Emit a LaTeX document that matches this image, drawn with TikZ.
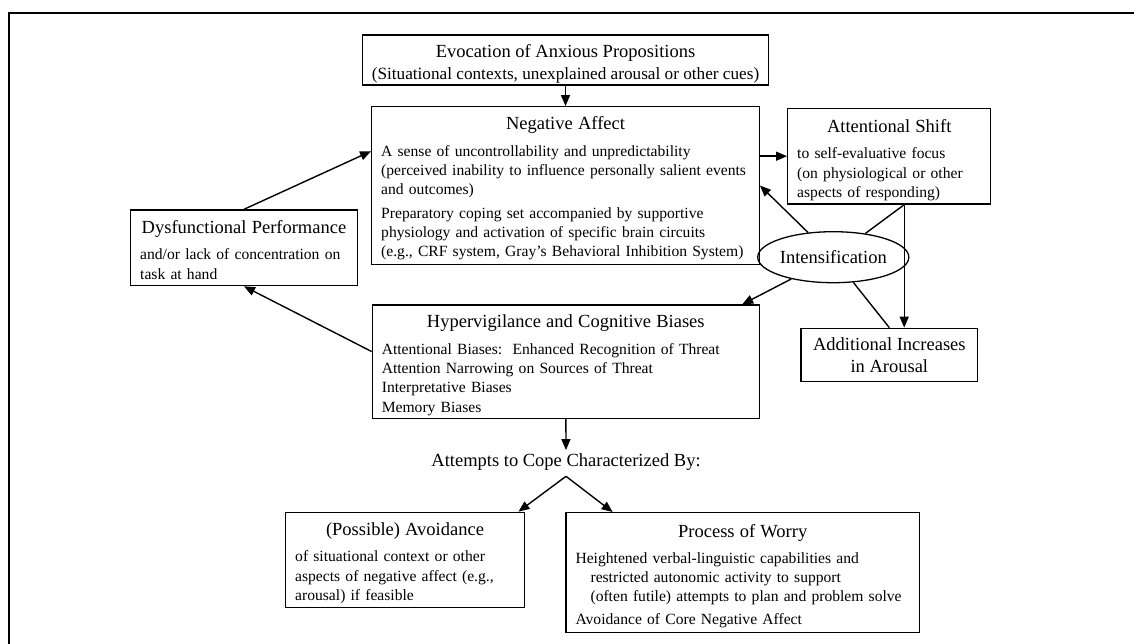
\documentclass[tikz,border=0pt]{standalone}
\usepackage{fontspec}
\setmainfont{Liberation Serif}
\usetikzlibrary{shapes.geometric,arrows.meta,positioning,calc}
\newcommand{\bodyfont}{\fontsize{15.6}{19.3}\selectfont}
\newcommand{\headfont}{\fontsize{18.5}{22}\selectfont}
\newcommand{\subfont}{\fontsize{17.2}{20.3}\selectfont}
\newcommand{\boxtitle}[2][13pt]{\makebox[\linewidth]{\headfont\rule{0pt}{#1}#2}}

\begin{document}
\begin{tikzpicture}[x=1pt,y=-1pt,
  box/.style={rectangle,draw,line width=1.3pt,inner xsep=9.5pt,inner ysep=0pt,
    align=left,font=\bodyfont},
  arr/.style={-{Triangle[length=11pt,width=9pt]},line width=1.4pt},
  link/.style={line width=1.4pt}
]
\useasboundingbox (0,0) rectangle (1134,644);
% frame of the figure
\draw[line width=2pt] (1134,12.7) -- (9,12.7) -- (9,644);

% Boxes
\node[box,align=center,font=\subfont,minimum width=387.6pt,minimum height=50pt] (evoc) at (565.5,60)
  {{\headfont\rule{0pt}{21pt}Evocation of Anxious Propositions}\\[2pt](Situational contexts, unexplained arousal or other cues)};
\node[box,text width=368.6pt,minimum height=157.6pt] (negaff) at (565.5,185.5)
  {\boxtitle[19pt]{Negative Affect}\\[7pt]
   A sense of uncontrollability and unpredictability\\
   \mbox{(perceived inability to influence personally salient events}\\
   and outcomes)\\[4pt]
   Preparatory coping set accompanied by supportive\\
   physiology and activation of specific brain circuits\\
   \mbox{(e.g., CRF system, Gray's Behavioral Inhibition System)}};
\node[box,text width=184pt,minimum height=95.7pt] (attshift) at (889.2,156.2)
  {\boxtitle[21pt]{Attentional Shift}\\[7pt]
   to self-evaluative focus\\
   (on physiological or other\\
   aspects of responding)};
\node[draw,ellipse,line width=1.3pt,minimum width=125.3pt,minimum height=51pt,
  inner sep=0pt,font=\headfont] (intens) at (833.3,257.2) {Intensification};
\node[box,align=center,font=\headfont,minimum width=176.7pt,minimum height=53.4pt] (arousal) at (889.3,355)
  {Additional Increases\\in Arousal};
\node[box,text width=207.6pt,minimum height=75.7pt] (dysperf) at (244,247.8)
  {\boxtitle[17pt]{Dysfunctional Performance}\\[7pt]
   and/or lack of concentration on\\
   task at hand};
\node[box,text width=368pt,minimum height=113.3pt] (hyper) at (565.8,361.7)
  {\boxtitle[20pt]{Hypervigilance and Cognitive Biases}\\[7pt]
   Attentional Biases:\ \ Enhanced Recognition of Threat\\
   Attention Narrowing on Sources of Threat\\
   Interpretative Biases\\
   Memory Biases};
\node[font=\headfont,inner sep=3pt] (cope) at (566,461.7) {Attempts to Cope Characterized By:};
\node[box,text width=219.6pt,minimum height=95pt] (avoid) at (405,559.8)
  {\boxtitle[20pt]{(Possible) Avoidance}\\[7pt]
   of situational context or other\\
   aspects of negative affect (e.g.,\\
   arousal) if feasible};
\node[box,text width=334.3pt,minimum height=120pt] (worry) at (742.7,572.7)
  {\boxtitle[20pt]{Process of Worry}\\[6pt]
   Heightened verbal-linguistic capabilities and\\
   \hspace*{15pt}restricted autonomic activity to support\\
   \mbox{\hspace*{15pt}(often futile) attempts to plan and problem solve}\\[3pt]
   Avoidance of Core Negative Affect};

% Connectors
\draw[arr] (evoc) -- (negaff);
\draw[arr] (dysperf.north) -- (negaff.170);
\draw[arr] (hyper.177) -- (dysperf.south);
\draw[arr] (negaff.east |- attshift.west) -- (attshift.west);
\draw[arr] (intens) -- (negaff.east);
\coordinate (asfoot) at ($(attshift.south)+(15,0)$);
\draw[link] (intens) -- (asfoot);
\draw[arr] (asfoot) -- (asfoot |- arousal.north);
\draw[link] (intens) -- (arousal.north);
\draw[arr] (intens) -- (hyper.18);
\draw[arr] (hyper) -- (cope);
\coordinate (split) at ($(cope.south)+(0,3)$);
\draw[arr] (split) -- (avoid.23);
\draw[arr] (split) -- (worry.155);
\end{tikzpicture}
\end{document}
